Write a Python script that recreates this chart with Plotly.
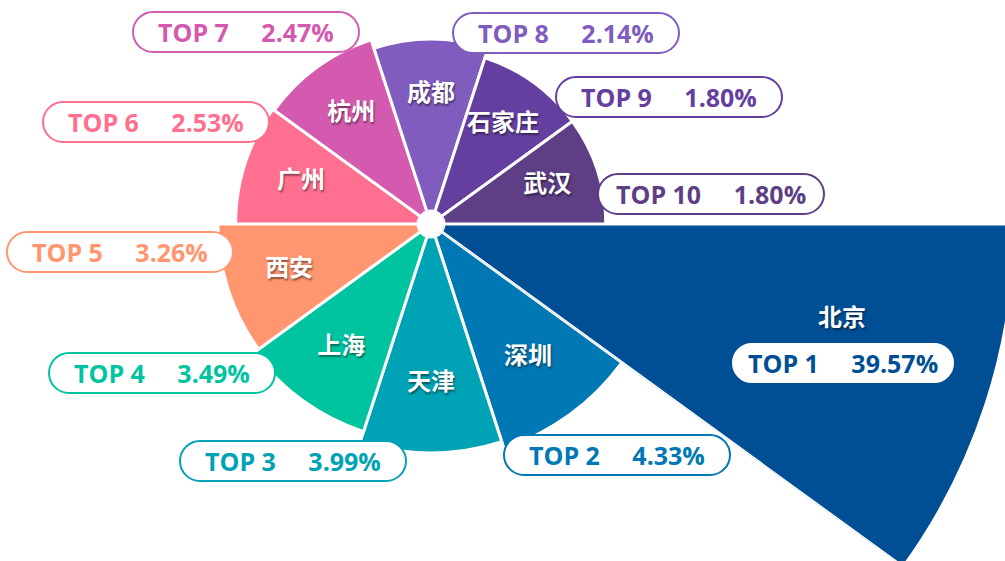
import numpy as np
import plotly.graph_objects as go

# ---------------- data ----------------
cities = ["北京", "深圳", "天津", "上海", "西安", "广州", "杭州", "成都", "石家庄", "武汉"]
shares = [39.57, 4.33, 3.99, 3.49, 3.26, 2.53, 2.47, 2.14, 1.80, 1.80]
rank_labels = ["TOP 1", "TOP 2", "TOP 3", "TOP 4", "TOP 5",
               "TOP 6", "TOP 7", "TOP 8", "TOP 9", "TOP 10"]

# ---------------- style / layout ----------------
colors = ["#004F95", "#0078B4", "#00A2B5", "#00C4A0", "#FF9670",
          "#FF7090", "#D45AB0", "#7F5CBE", "#653FA0", "#5E3F86"]

W_FIG, H_FIG = 1018, 569   # slightly larger than the 1005x561 window (overflow hidden)
CX, CY = 431, 224          # pixel centre of the rose
HOLE_PIX = 13
K = 82.6                   # pixels per radial unit
OFFSET = 0.617             # radial offset so small petals keep a visible body

# pill centres (pixels) and sizes
pill_pos = [(843, 363), (617, 455), (293, 461), (162, 373), (120, 252),
            (156, 122), (246, 32), (566, 33), (669, 97), (711, 194)]
PILL_W, PILL_H = 226, 40
FONT = "Open Sans, Noto Sans CJK SC, sans-serif"
CJK_FONT = "Noto Sans CJK SC, sans-serif"
NB = "\u00a0" * 5
LABEL_FONT = dict(family=CJK_FONT, size=24, color="white", weight="bold",
                  shadow="1px 2px 2px rgba(0,0,0,0.45)")


def px_x(x):
    return x / W_FIG


def px_y(y):
    return 1 - y / H_FIG


def pill_path(w, h):
    r = h / 2
    hw = w / 2 - r
    c = 0.5523 * r
    return (f"M {-hw},{-r} L {hw},{-r} "
            f"C {hw + c},{-r} {hw + r},{-c} {hw + r},0 "
            f"C {hw + r},{c} {hw + c},{r} {hw},{r} "
            f"L {-hw},{r} "
            f"C {-hw - c},{r} {-hw - r},{c} {-hw - r},0 "
            f"C {-hw - r},{-c} {-hw - c},{-r} {-hw},{-r} Z")


theta = np.array([i * 36 for i in range(len(cities))])
r_plot = OFFSET + np.sqrt(np.array(shares))
label_r = 0.7 * r_plot - 0.3 * HOLE_PIX / K

# three polar panes share centre & scale: (id, indices, sector, radius px, bbox)
c36, s36 = np.cos(np.radians(36)), np.sin(np.radians(36))
panes = [
    ("polar", [1, 2, 3, 4], [180, 324], 240, (-1.0, -1.0, c36, 0.0)),
    ("polar2", [5, 6, 7, 8, 9], [0, 180], 224, (-1.0, 0.0, 1.0, 1.0)),
    ("polar3", [0], [324, 360], 586, (0.0, -s36, 1.0, 0.0)),
]

fig = go.Figure()
layout_polars = {}
for pid, idx, sector, R, (bx0, by0, bx1, by1) in panes:
    fig.add_trace(go.Barpolar(
        r=r_plot[idx], theta=theta[idx], width=[36] * len(idx),
        marker=dict(color=[colors[i] for i in idx],
                    line=dict(color="white", width=3)),
        hoverinfo="skip", showlegend=False, subplot=pid,
    ))
    if pid != "polar3":
        fig.add_trace(go.Scatterpolar(
            r=label_r[idx], theta=theta[idx], mode="text",
            text=[cities[i] for i in idx], textfont=LABEL_FONT,
            hoverinfo="skip", showlegend=False, subplot=pid,
        ))
    layout_polars[pid] = dict(
        domain=dict(x=[px_x(CX + bx0 * R), px_x(CX + bx1 * R)],
                    y=[px_y(CY - by0 * R), px_y(CY - by1 * R)]),
        sector=sector,
        hole=HOLE_PIX / R,
        bgcolor="rgba(0,0,0,0)",
        radialaxis=dict(range=[0, (R - HOLE_PIX) / K], visible=False),
        angularaxis=dict(direction="clockwise", rotation=-18, visible=False),
        bargap=0,
    )

shapes = []
annotations = []
for i, (x, y) in enumerate(pill_pos):
    w, h = (PILL_W, PILL_H) if i > 0 else (220, 38)
    shapes.append(dict(
        type="path", xref="paper", yref="paper",
        xsizemode="pixel", ysizemode="pixel",
        xanchor=px_x(x), yanchor=px_y(y),
        path=pill_path(w, h), fillcolor="white",
        line=dict(color=colors[i] if i > 0 else "white", width=2),
        layer="above",
    ))
    annotations.append(dict(
        x=px_x(x), y=px_y(y), xref="paper", yref="paper",
        text=f"{rank_labels[i]}{NB}{shares[i]:.2f}%", showarrow=False,
        font=dict(family=FONT, size=25, color=colors[i], weight="bold"),
        xanchor="center", yanchor="middle",
    ))

# Beijing name inside the big petal
annotations.append(dict(
    x=px_x(842), y=px_y(315), xref="paper", yref="paper",
    text=cities[0], showarrow=False, font=LABEL_FONT,
    xanchor="center", yanchor="middle",
))

fig.update_layout(
    width=W_FIG, height=H_FIG,
    margin=dict(l=0, r=0, t=0, b=0),
    paper_bgcolor="white", plot_bgcolor="white",
    shapes=shapes,
    annotations=annotations,
    **layout_polars,
)

fig.write_html(
    "out.html",
    config={"displayModeBar": False},
    post_script=("document.body.style.margin='0';"
                 "document.body.style.overflow='hidden';"
                 "document.documentElement.style.overflow='hidden';"),
)
